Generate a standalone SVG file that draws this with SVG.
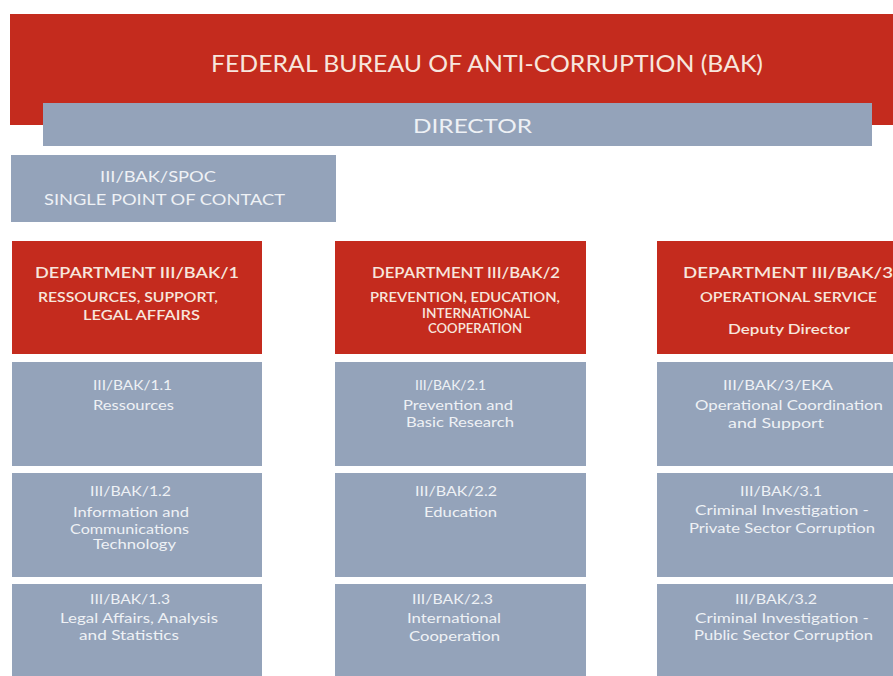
<svg xmlns="http://www.w3.org/2000/svg" width="893" height="676" viewBox="0 0 893 676">
<style>
.red{fill:#C42B1E}
.blue{fill:#94A3BA}
text{font-family:Lato,"Liberation Sans",sans-serif}
.tr{fill:#F7E6DD}
.tb{fill:#EEF1F5}
.h1{font-size:24px}
.h2{font-size:20px}
.sp{font-size:15px}
.dh{font-size:16px;font-weight:600}
.ds{font-size:13.5px;font-weight:600}
.bh{font-size:14px}
.bb{font-size:13px}
</style>
<rect width="893" height="676" fill="#FFFFFF"/>
<g id="bureau">
<rect class="red" x="10" y="14" width="883" height="111"/>
<text class="tr h1" x="211" y="72" textLength="552" lengthAdjust="spacingAndGlyphs">FEDERAL BUREAU OF ANTI-CORRUPTION (BAK)</text>
</g>
<g id="director">
<rect class="blue" x="43" y="103" width="829" height="43"/>
<text class="tb h2" x="413" y="133" textLength="119" lengthAdjust="spacingAndGlyphs">DIRECTOR</text>
</g>
<g id="spoc">
<rect class="blue" x="11" y="155" width="325" height="67"/>
<text class="tb sp" x="100" y="182" textLength="116" lengthAdjust="spacingAndGlyphs">III/BAK/SPOC</text>
<text class="tb sp" x="44" y="205" textLength="241" lengthAdjust="spacingAndGlyphs">SINGLE POINT OF CONTACT</text>
</g>
<g id="dept1">
<rect class="red" x="12" y="241" width="250" height="113"/>
<text class="tr dh" x="35" y="278" textLength="204" lengthAdjust="spacingAndGlyphs">DEPARTMENT III/BAK/1</text>
<text class="tr ds" x="38" y="302" textLength="180" lengthAdjust="spacingAndGlyphs">RESSOURCES, SUPPORT,</text>
<text class="tr ds" x="83" y="320" textLength="117" lengthAdjust="spacingAndGlyphs">LEGAL AFFAIRS</text>
</g>
<g id="unit11">
<rect class="blue" x="12" y="362" width="250" height="104"/>
<text class="tb bh" x="93" y="390" textLength="79" lengthAdjust="spacingAndGlyphs">III/BAK/1.1</text>
<text class="tb bb" x="93" y="410" textLength="81" lengthAdjust="spacingAndGlyphs">Ressources</text>
</g>
<g id="unit12">
<rect class="blue" x="12" y="473" width="250" height="104"/>
<text class="tb bh" x="90" y="496" textLength="81" lengthAdjust="spacingAndGlyphs">III/BAK/1.2</text>
<text class="tb bb" x="73" y="517" textLength="116" lengthAdjust="spacingAndGlyphs">Information and</text>
<text class="tb bb" x="70" y="534" textLength="119" lengthAdjust="spacingAndGlyphs">Communications</text>
<text class="tb bb" x="93" y="549" textLength="83" lengthAdjust="spacingAndGlyphs">Technology</text>
</g>
<g id="unit13">
<rect class="blue" x="12" y="584" width="250" height="92"/>
<text class="tb bh" x="90" y="604" textLength="80" lengthAdjust="spacingAndGlyphs">III/BAK/1.3</text>
<text class="tb bb" x="60" y="623" textLength="158" lengthAdjust="spacingAndGlyphs">Legal Affairs, Analysis</text>
<text class="tb bb" x="79" y="640" textLength="100" lengthAdjust="spacingAndGlyphs">and Statistics</text>
</g>
<g id="dept2">
<rect class="red" x="335" y="241" width="251" height="113"/>
<text class="tr dh" x="372" y="278" textLength="188" lengthAdjust="spacingAndGlyphs">DEPARTMENT III/BAK/2</text>
<text class="tr ds" x="370" y="302" textLength="190" lengthAdjust="spacingAndGlyphs">PREVENTION, EDUCATION,</text>
<text class="tr ds" x="422" y="318" textLength="108" lengthAdjust="spacingAndGlyphs">INTERNATIONAL</text>
<text class="tr ds" x="428" y="333" textLength="94" lengthAdjust="spacingAndGlyphs">COOPERATION</text>
</g>
<g id="unit21">
<rect class="blue" x="335" y="362" width="251" height="104"/>
<text class="tb bh" x="415" y="390" textLength="71" lengthAdjust="spacingAndGlyphs">III/BAK/2.1</text>
<text class="tb bb" x="403" y="410" textLength="110" lengthAdjust="spacingAndGlyphs">Prevention and</text>
<text class="tb bb" x="406" y="427" textLength="108" lengthAdjust="spacingAndGlyphs">Basic Research</text>
</g>
<g id="unit22">
<rect class="blue" x="335" y="473" width="251" height="104"/>
<text class="tb bh" x="415" y="496" textLength="82" lengthAdjust="spacingAndGlyphs">III/BAK/2.2</text>
<text class="tb bb" x="424" y="517" textLength="73" lengthAdjust="spacingAndGlyphs">Education</text>
</g>
<g id="unit23">
<rect class="blue" x="335" y="584" width="251" height="92"/>
<text class="tb bh" x="412" y="604" textLength="81" lengthAdjust="spacingAndGlyphs">III/BAK/2.3</text>
<text class="tb bb" x="407" y="623" textLength="94" lengthAdjust="spacingAndGlyphs">International</text>
<text class="tb bb" x="409" y="641" textLength="91" lengthAdjust="spacingAndGlyphs">Cooperation</text>
</g>
<g id="dept3">
<rect class="red" x="657" y="241" width="236" height="113"/>
<text class="tr dh" x="683" y="278" textLength="210" lengthAdjust="spacingAndGlyphs">DEPARTMENT III/BAK/3</text>
<text class="tr ds" x="700" y="302" textLength="177" lengthAdjust="spacingAndGlyphs">OPERATIONAL SERVICE</text>
<text class="tr ds" x="728" y="334" textLength="122" lengthAdjust="spacingAndGlyphs">Deputy Director</text>
</g>
<g id="unit3eka">
<rect class="blue" x="657" y="362" width="236" height="104"/>
<text class="tb bh" x="723" y="390" textLength="110" lengthAdjust="spacingAndGlyphs">III/BAK/3/EKA</text>
<text class="tb bb" x="695" y="410" textLength="188" lengthAdjust="spacingAndGlyphs">Operational Coordination</text>
<text class="tb bb" x="728" y="428" textLength="96" lengthAdjust="spacingAndGlyphs">and Support</text>
</g>
<g id="unit31">
<rect class="blue" x="657" y="473" width="236" height="104"/>
<text class="tb bh" x="740" y="496" textLength="82" lengthAdjust="spacingAndGlyphs">III/BAK/3.1</text>
<text class="tb bb" x="695" y="515" textLength="174" lengthAdjust="spacingAndGlyphs">Criminal Investigation -</text>
<text class="tb bb" x="689" y="533" textLength="186" lengthAdjust="spacingAndGlyphs">Private Sector Corruption</text>
</g>
<g id="unit32">
<rect class="blue" x="657" y="584" width="236" height="92"/>
<text class="tb bh" x="735" y="604" textLength="82" lengthAdjust="spacingAndGlyphs">III/BAK/3.2</text>
<text class="tb bb" x="695" y="623" textLength="174" lengthAdjust="spacingAndGlyphs">Criminal Investigation -</text>
<text class="tb bb" x="694" y="640" textLength="179" lengthAdjust="spacingAndGlyphs">Public Sector Corruption</text>
</g>
<g id="connectors"/>
</svg>
